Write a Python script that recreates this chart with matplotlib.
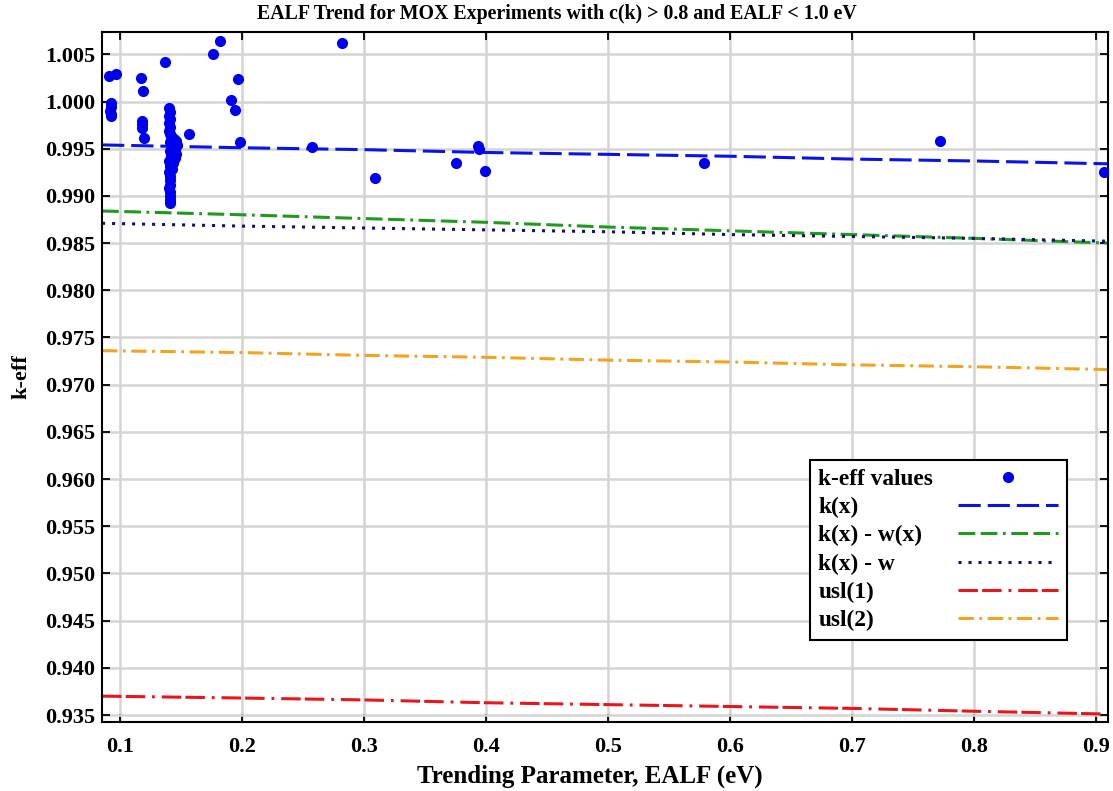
import matplotlib
matplotlib.use('Agg')

import matplotlib.pyplot as plt
from matplotlib.ticker import MultipleLocator, FormatStrFormatter

# k-eff values (EALF in eV, k-eff)
ealf = [0.0910, 0.0973, 0.0925, 0.0927, 0.0924, 0.0928, 0.0926,
        0.1178, 0.1191, 0.1180, 0.1183, 0.1186, 0.1195,
        0.1369, 0.1765, 0.1820, 0.1970, 0.1915, 0.1948, 0.1989, 0.1566,
        0.1405, 0.1408, 0.1402, 0.1410, 0.1406, 0.1412, 0.1404, 0.1415,
        0.1420, 0.1430, 0.1445, 0.1460, 0.1410, 0.1440, 0.1470, 0.1425,
        0.1455, 0.1410, 0.1440, 0.1465, 0.1420, 0.1450, 0.1405, 0.1435,
        0.1410, 0.1425, 0.1405, 0.1415, 0.1408, 0.1412, 0.1405, 0.1410,
        0.1415, 0.1408, 0.1412,
        0.2822, 0.2576, 0.3090, 0.3757, 0.3937, 0.3945, 0.3997,
        0.5791, 0.7721, 0.9069]
keff = [1.0027, 1.0029, 0.9998, 0.9994, 0.9990, 0.9987, 0.9985,
        1.0025, 1.0011, 0.9979, 0.9976, 0.9972, 0.9961,
        1.0042, 1.0050, 1.0064, 1.0024, 1.0002, 0.9991, 0.9957, 0.9966,
        0.9993, 0.9989, 0.9985, 0.9981, 0.9977, 0.9973, 0.9969, 0.9966,
        0.9963, 0.9961, 0.9960, 0.9958, 0.9957, 0.9955, 0.9954, 0.9952,
        0.9950, 0.9948, 0.9946, 0.9944, 0.9942, 0.9940, 0.9937, 0.9935,
        0.9932, 0.9929, 0.9925, 0.9921, 0.9917, 0.9912, 0.9908, 0.9904,
        0.9900, 0.9896, 0.9892,
        1.0062, 0.9952, 0.9919, 0.9935, 0.9953, 0.9950, 0.9926,
        0.9935, 0.9958, 0.9925]

# trend lines
trend_x = [0.0855, 0.2, 0.3, 0.4, 0.5, 0.6, 0.7, 0.8, 0.9095]
kx = [0.9954, 0.9951, 0.9949, 0.9946, 0.9944, 0.9942, 0.9939, 0.9937, 0.9934]
kx_wx = [0.9884, 0.9880, 0.9876, 0.9872, 0.9867, 0.9863, 0.9859, 0.9855, 0.9850]
kx_w = [0.9871, 0.9868, 0.9866, 0.9864, 0.9862, 0.9859, 0.9857, 0.9855, 0.9852]
usl1 = [0.9370, 0.9368, 0.9366, 0.9363, 0.9361, 0.9359, 0.9357, 0.9354, 0.9351]
usl2 = [0.9736, 0.9734, 0.9731, 0.9729, 0.9726, 0.9724, 0.9721, 0.9719, 0.9716]

plt.rcParams['font.family'] = ['Liberation Serif', 'DejaVu Serif']
plt.rcParams['font.weight'] = 'bold'
plt.rcParams['lines.scale_dashes'] = False

fig = plt.figure(figsize=(11.13, 7.91), dpi=100)
ax = fig.add_axes([0.0917, 0.0876, 0.9034, 0.8719])

lw = 2.2
ax.plot(ealf, keff, 'o', color='#0000f0', markersize=7, label='k-eff values', zorder=5)
ax.plot(trend_x, kx, color='#0a14e6', lw=lw, linestyle=(0, (16, 5)), label='k(x)')
ax.plot(trend_x, kx_wx, color='#1f9a1f', lw=lw, linestyle=(0, (12, 4, 12, 4, 2, 4)), label='k(x) - w(x)')
ax.plot(trend_x, kx_w, color='#14146e', lw=lw, linestyle=(0, (2.2, 5)), label='k(x) - w')
ax.plot(trend_x, usl1, color='#e8161b', lw=lw, linestyle=(0, (14, 3, 14, 5, 2, 5)), label='usl(1)')
ax.plot(trend_x, usl2, color='#f5a31e', lw=lw, linestyle=(0, (11, 4, 2, 4)), label='usl(2)')

ax.set_xlim(0.0855, 0.9095)
ax.set_ylim(0.93429, 1.00736)
ax.xaxis.set_major_locator(MultipleLocator(0.1))
ax.yaxis.set_major_locator(MultipleLocator(0.005))
ax.xaxis.set_major_formatter(FormatStrFormatter('%.1f'))
ax.yaxis.set_major_formatter(FormatStrFormatter('%.3f'))
ax.tick_params(direction='in', length=6, width=1.3, top=True, right=True, labelsize=16)
ax.tick_params(axis='x', pad=11)
ax.tick_params(axis='y', pad=5)
ax.grid(True, color='#d4d4d4', linewidth=1.8)
ax.set_axisbelow(True)
for s in ax.spines.values():
    s.set_linewidth(1.5)

fig.text(0.5, 1 - 14 / 791, 'EALF Trend for MOX Experiments with c(k) > 0.8 and EALF < 1.0 eV',
         fontsize=14.3, fontweight='bold', ha='center', va='center')
ax.set_xlabel('Trending Parameter, EALF (eV)', fontsize=18, fontweight='bold')
ax.xaxis.set_label_coords(0.485, -0.062)
ax.set_ylabel('k-eff', fontsize=16, fontweight='bold', labelpad=10)

leg = ax.legend(loc='lower right', bbox_to_anchor=(0.9597, 0.118), borderaxespad=0,
                markerfirst=False, numpoints=1, handlelength=4.3, handletextpad=1.05,
                fontsize=16.8, labelspacing=0.3, fancybox=False, framealpha=1,
                edgecolor='black', borderpad=0.38)
leg.get_frame().set_linewidth(1.5)

# left-align the legend labels while keeping the handles in one column
fig.canvas.draw()
renderer = fig.canvas.get_renderer()
rows = leg._legend_handle_box.get_children()[0].get_children()
widths = [r.get_children()[0].get_window_extent(renderer).width for r in rows]
widest = max(widths)
for r, w in zip(rows, widths):
    r.sep += (widest - w) * 72 / fig.dpi

fig.savefig('out.png', dpi=100)
plt.close(fig)
